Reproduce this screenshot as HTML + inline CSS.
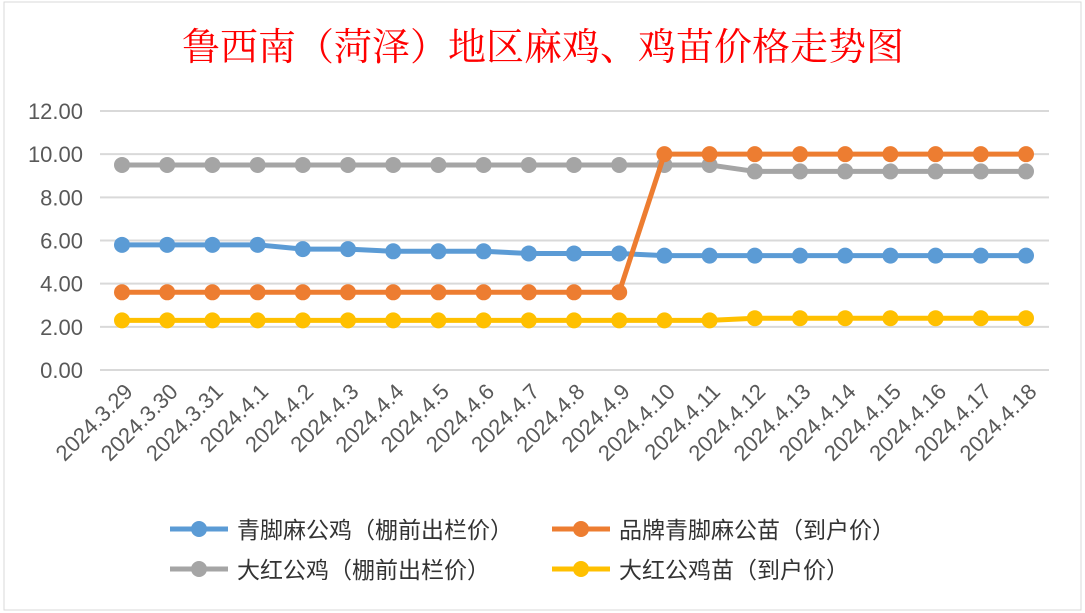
<!DOCTYPE html>
<html><head><meta charset="utf-8"><style>
body{margin:0;background:#fff;}
svg{display:block;font-family:"Liberation Sans","Noto Sans CJK SC",sans-serif;}
</style></head><body>
<svg id="c" width="1085" height="613">
<rect x="4" y="2" width="1077" height="608" fill="#fff" stroke="#d9d9d9"/>
<text x="543" y="60" text-anchor="middle" font-size="38" fill="#ff0000" font-family="'Noto Serif CJK SC',serif">鲁西南（菏泽）地区麻鸡、鸡苗价格走势图</text>
<g id="grid"></g><g id="series"></g><g id="xl"></g><g id="legend"></g>
</svg>
<script>
const categories=["2024.3.29","2024.3.30","2024.3.31","2024.4.1","2024.4.2","2024.4.3","2024.4.4","2024.4.5","2024.4.6","2024.4.7","2024.4.8","2024.4.9","2024.4.10","2024.4.11","2024.4.12","2024.4.13","2024.4.14","2024.4.15","2024.4.16","2024.4.17","2024.4.18"];
const blueValues=[5.8,5.8,5.8,5.8,5.6,5.6,5.5,5.5,5.5,5.4,5.4,5.4,5.3,5.3,5.3,5.3,5.3,5.3,5.3,5.3,5.3];
const orangeValues=[3.6,3.6,3.6,3.6,3.6,3.6,3.6,3.6,3.6,3.6,3.6,3.6,10,10,10,10,10,10,10,10,10];
const grayValues=[9.5,9.5,9.5,9.5,9.5,9.5,9.5,9.5,9.5,9.5,9.5,9.5,9.5,9.5,9.2,9.2,9.2,9.2,9.2,9.2,9.2];
const yellowValues=[2.3,2.3,2.3,2.3,2.3,2.3,2.3,2.3,2.3,2.3,2.3,2.3,2.3,2.3,2.4,2.4,2.4,2.4,2.4,2.4,2.4];
const yTicks=[0,2,4,6,8,10,12];
const seriesNames=["青脚麻公鸡（棚前出栏价）","品牌青脚麻公苗（到户价）","大红公鸡（棚前出栏价）","大红公鸡苗（到户价）"];
const NS="http://www.w3.org/2000/svg";
const x=i=>122+i*(1026-122)/(categories.length-1);
const y=v=>370-v*(370-111)/12;
function mk(tag,attrs,parent){const e=document.createElementNS(NS,tag);for(const k in attrs)e.setAttribute(k,attrs[k]);parent.appendChild(e);return e;}
const grid=document.getElementById('grid');
yTicks.forEach(t=>{
  const l=mk('line',{x1:100,x2:1049,y1:y(t),y2:y(t),stroke:'#d9d9d9','stroke-width':2},grid);
  
  
  const tx=mk('text',{x:83,y:y(t)+8,'text-anchor':'end','font-size':22,fill:'#595959'},grid);
  tx.textContent=t.toFixed(2);
  
  
});
const xl=document.getElementById('xl');
categories.forEach((c,i)=>{
  const t=mk('text',{x:x(i)+12,y:393,'text-anchor':'end','font-size':22,fill:'#595959',transform:`rotate(-45 ${x(i)+12} 393)`},xl);
  t.textContent=c;
  
  
});
const colors=['#5b9bd5','#ed7d31','#a5a5a5','#ffc000'];
const all=[blueValues,orangeValues,grayValues,yellowValues];
const sg=document.getElementById('series');
[2,0,3,1].forEach(s=>{
  const g=mk('g',{},sg);
  
  
  const p=mk('polyline',{points:all[s].map((v,i)=>x(i)+','+y(v)).join(' '),fill:'none',stroke:colors[s],'stroke-width':5,'stroke-linejoin':'round'},g);
  
  
  all[s].forEach((v,i)=>{
    const c=mk('circle',{cx:x(i),cy:y(v),r:8,fill:colors[s]},g);
    
    
  });
});
const lg=document.getElementById('legend');
const pos=[[170,529],[552,529],[170,569],[552,569]];
seriesNames.forEach((n,s)=>{
  const [lx,ly]=pos[s];
  const g=mk('g',{},lg);
  
  
  mk('line',{x1:lx,x2:lx+58,y1:ly,y2:ly,stroke:colors[s],'stroke-width':5},g);
  mk('circle',{cx:lx+29,cy:ly,r:8,fill:colors[s]},g);
  const t=mk('text',{x:lx+67,y:ly+9,'font-size':23,fill:'#333'},g);
  t.textContent=n;
});
</script>
</body></html>
